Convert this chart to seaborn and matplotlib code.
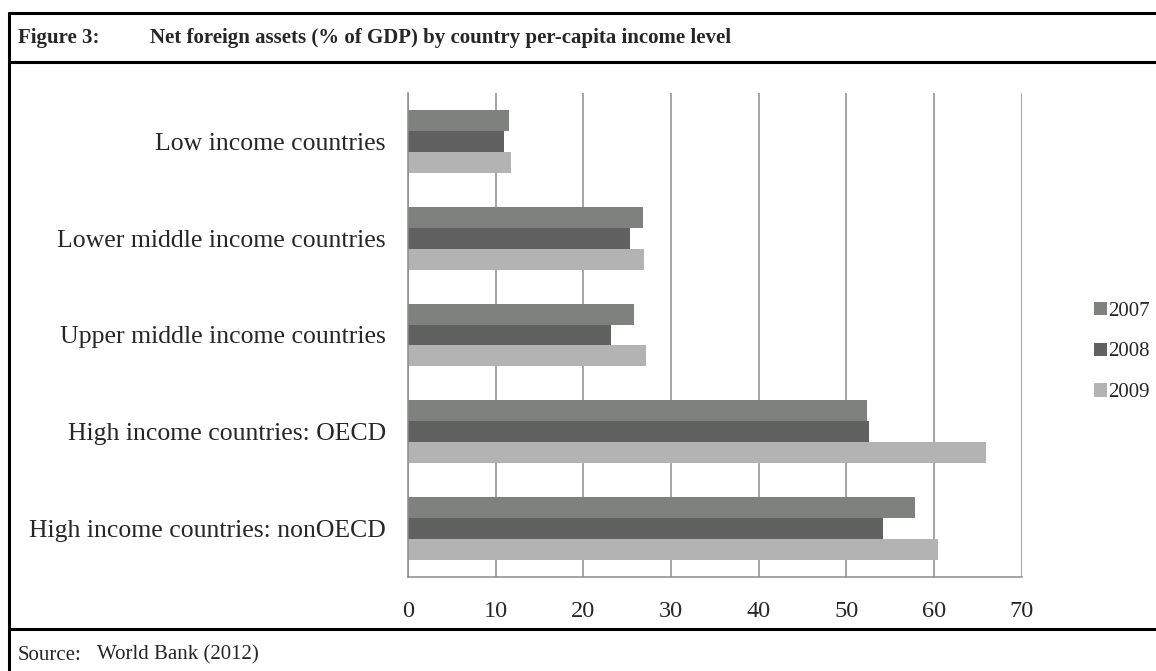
import pandas as pd
import seaborn as sns
import matplotlib.pyplot as plt
from matplotlib.lines import Line2D
from matplotlib.patches import Patch

# =========================
# DATA
# =========================
categories = ['Low income countries',
              'Lower middle income countries',
              'Upper middle income countries',
              'High income countries: OECD',
              'High income countries: nonOECD']
years = ['2007', '2008', '2009']
vals_2007 = [11.5, 26.8, 25.8, 52.4, 57.8]
vals_2008 = [10.9, 25.3, 23.2, 52.6, 54.2]
vals_2009 = [11.7, 26.9, 27.2, 65.9, 60.4]
xticks = [0, 10, 20, 30, 40, 50, 60, 70]

colors = ['#7f817f', '#616161', '#b3b3b3']

df = pd.DataFrame({
    'country': categories * 3,
    'year': [y for y in years for _ in categories],
    'value': vals_2007 + vals_2008 + vals_2009,
})

# =========================
# STYLE
# =========================
sns.set_style('white')
plt.rcParams['font.family'] = ['Liberation Serif', 'DejaVu Serif']

W, H = 1156, 671
fig = plt.figure(figsize=(W / 100, H / 100), dpi=100)
ax = fig.add_axes([408 / W, 1 - 577 / H, (1021.7 - 408) / W, (577 - 93) / H])

sns.barplot(data=df, y='country', x='value', hue='year', order=categories,
            hue_order=years, palette=dict(zip(years, colors)), orient='h',
            width=0.65, saturation=1, linewidth=0, legend=False, ax=ax)

grid_c = '#8c8c8c'
ax.set_xlim(0, 70)
ax.set_ylim(4.5, -0.5)
ax.set_xticks(xticks)
ax.xaxis.grid(True, color=grid_c, lw=1.1)
ax.set_axisbelow(True)
ax.set_xlabel('')
ax.set_ylabel('')
for s in ['top', 'right']:
    ax.spines[s].set_visible(False)
for s in ['left', 'bottom']:
    ax.spines[s].set_color(grid_c)
    ax.spines[s].set_linewidth(1.1)

ax.set_yticks(range(len(categories)))
ax.set_yticklabels(categories)
ax.set_yticks([i - 0.5 for i in range(len(categories) + 1)], minor=True)
ax.tick_params(axis='y', which='major', length=0, pad=16, labelsize=18.5)
ax.tick_params(axis='y', which='minor', length=5, color=grid_c, width=1.1)
ax.tick_params(axis='x', length=6, color=grid_c, width=1.1, pad=11, labelsize=17.5)

# legend
handles = [Patch(facecolor=c, edgecolor='none', label=y) for y, c in zip(years, colors)]
fig.legend(handles=handles, loc='center left', bbox_to_anchor=(1094 / W, 1 - 352 / H),
           frameon=False, fontsize=15, handlelength=0.6, handleheight=0.6,
           handletextpad=0.1, labelspacing=1.05, borderaxespad=0, borderpad=0)

# =========================
# FRAME AND TEXT
# =========================
lw = 2.2
fig.add_artist(Line2D([9 / W, 1], [1 - 13 / H] * 2, color='black', lw=lw, transform=fig.transFigure))
fig.add_artist(Line2D([9 / W, 1], [1 - 62 / H] * 2, color='black', lw=lw, transform=fig.transFigure))
fig.add_artist(Line2D([9 / W, 1], [1 - 629 / H] * 2, color='black', lw=lw, transform=fig.transFigure))
fig.add_artist(Line2D([9 / W] * 2, [1 - 13 / H, 0], color='black', lw=lw, transform=fig.transFigure))

fig.text(18 / W, 1 - 38 / H, 'Figure 3:', fontsize=15, fontweight='bold', va='center')
fig.text(150 / W, 1 - 38 / H, 'Net foreign assets (% of GDP) by country per-capita income level',
         fontsize=15, fontweight='bold', va='center')
fig.text(18 / W, 1 - 655 / H, 'Source:', fontsize=15, va='center')
fig.text(97 / W, 1 - 655 / H, 'World Bank (2012)', fontsize=15, va='center')

fig.savefig('out.png', dpi=100)
